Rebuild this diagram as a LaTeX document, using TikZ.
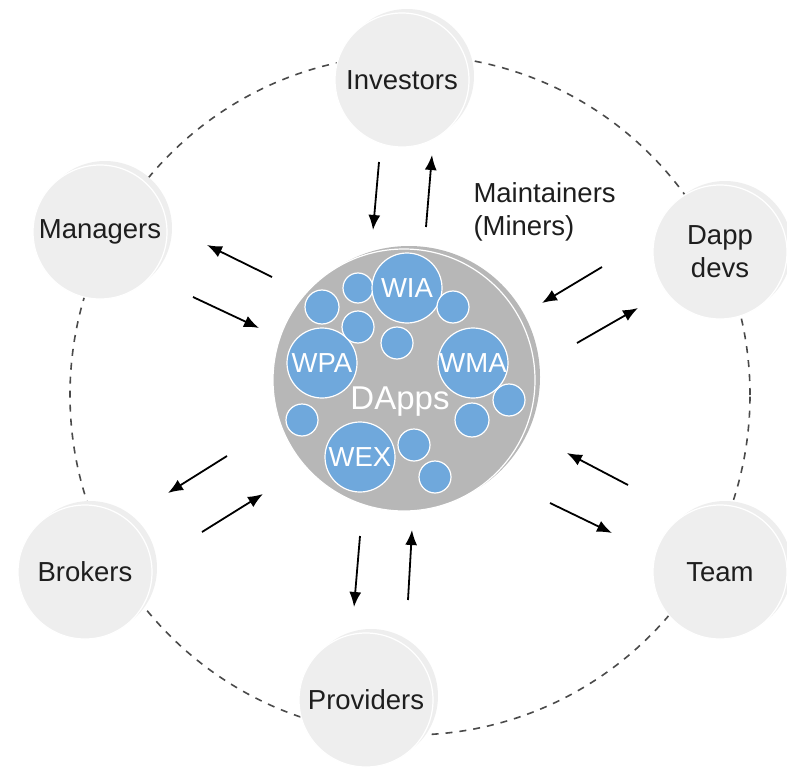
\documentclass[tikz,border=0pt]{standalone}
\usepackage{fontspec}
\setmainfont{Liberation Sans}
\usetikzlibrary{arrows.meta,shadows}

\definecolor{partygray}{HTML}{EEEEEE}
\definecolor{dappgray}{HTML}{B7B7B7}
\definecolor{blobblue}{HTML}{6FA8DC}
\definecolor{ringgray}{HTML}{4A4A4A}
\definecolor{inkgray}{HTML}{1E1E1E}

\tikzset{
  party/.style={circle, inner sep=0pt, minimum size=134pt, fill=partygray,
    draw=white, line width=1.2pt, text=inkgray, align=center,
    drop shadow={shadow xshift=5pt, shadow yshift=4pt, fill=partygray, opacity=1}},
  blob/.style={circle, inner sep=0pt, fill=blobblue, draw=white,
    line width=1.2pt, text=white},
  flow/.style={-{Latex[length=15pt,width=12pt]}, line width=1.8pt, black},
  ring/.style={ringgray, line width=1.6pt, dash pattern=on 7pt off 7pt},
}

\begin{document}
\begin{tikzpicture}[x=1pt, y=-1pt,
  every node/.style={font=\fontsize{27.5}{33}\selectfont}]

\newcommand\BlobBig{70pt}
\newcommand\BlobSmall{32pt}

\useasboundingbox (0,0) rectangle (787,773);

% outer dashed ring
\coordinate (hub) at (410,395);
\draw[ring] (hub) circle (340pt);

% parties
\node[party] (inv)  at (402, 80) {Investors};
\node[party] (man)  at (100,232) {Managers};
\node[party] (dev)  at (720,252) {Dapp\\devs};
\node[party] (bro)  at ( 85,572) {Brokers};
\node[party] (team) at (720,572) {Team};
\node[party] (pro)  at (366,700) {Providers};

\node[anchor=west, align=left, text=inkgray] (maint) at (470,212) {Maintainers\\(Miners)};

% DApps core
\node[circle, inner sep=0pt, minimum size=262pt, fill=dappgray, draw=white,
  line width=1.2pt, drop shadow={shadow xshift=5pt, shadow yshift=3pt,
  fill=dappgray, opacity=1}] (dapps) at (404,380) {};

\node[blob, minimum size=30pt] (s1) at (358,288) {};
\node[blob, minimum size=\BlobBig] (wia) at (407,288) {WIA};
\node[blob, minimum size=\BlobBig] (wpa) at (322,363) {WPA};
\node[blob, minimum size=\BlobBig] (wma) at (473,363) {WMA};
\node[blob, minimum size=\BlobBig] (wex) at (360,457) {WEX};

\node[blob, minimum size=34pt]       (s2)  at (322,307) {};
\node[blob, minimum size=\BlobSmall] (s3)  at (358,327) {};
\node[blob, minimum size=\BlobSmall] (s4)  at (397,343) {};
\node[blob, minimum size=\BlobSmall] (s5)  at (453,307) {};
\node[blob, minimum size=\BlobSmall] (s6)  at (302,420) {};
\node[blob, minimum size=34pt]       (s8)  at (472,420) {};
\node[blob, minimum size=\BlobSmall] (s7)  at (509,400) {};
\node[blob, minimum size=\BlobSmall] (s9)  at (414,445) {};
\node[blob, minimum size=\BlobSmall] (s10) at (435,477) {};

\node[text=white, font=\fontsize{33}{40}\selectfont] (dappslbl) at (400,402) {DApps};

% arrow ends
\coordinate (invA) at (379,162); \coordinate (invB) at (373,230); % in
\coordinate (invC) at (426,227); \coordinate (invD) at (432,155); % out
\coordinate (manA) at (272,277); \coordinate (manB) at (207,245); % out
\coordinate (manC) at (193,297); \coordinate (manD) at (259,328); % in
\coordinate (devA) at (602,267); \coordinate (devB) at (542,303); % in
\coordinate (devC) at (577,343); \coordinate (devD) at (638,308); % out
\coordinate (broA) at (227,456); \coordinate (broB) at (168,493); % out
\coordinate (broC) at (202,532); \coordinate (broD) at (263,494); % in
\coordinate (teamA) at (628,485); \coordinate (teamB) at (567,453); % in
\coordinate (teamC) at (550,503); \coordinate (teamD) at (612,533); % out
\coordinate (proA) at (360,536); \coordinate (proB) at (354,607); % out
\coordinate (proC) at (408,600); \coordinate (proD) at (412,530); % in

\draw[flow] (invA) -- (invB);
\draw[flow] (invC) -- (invD);
\draw[flow] (manA) -- (manB);
\draw[flow] (manC) -- (manD);
\draw[flow] (devA) -- (devB);
\draw[flow] (devC) -- (devD);
\draw[flow] (broA) -- (broB);
\draw[flow] (broC) -- (broD);
\draw[flow] (teamA) -- (teamB);
\draw[flow] (teamC) -- (teamD);
\draw[flow] (proA) -- (proB);
\draw[flow] (proC) -- (proD);

\end{tikzpicture}
\end{document}
